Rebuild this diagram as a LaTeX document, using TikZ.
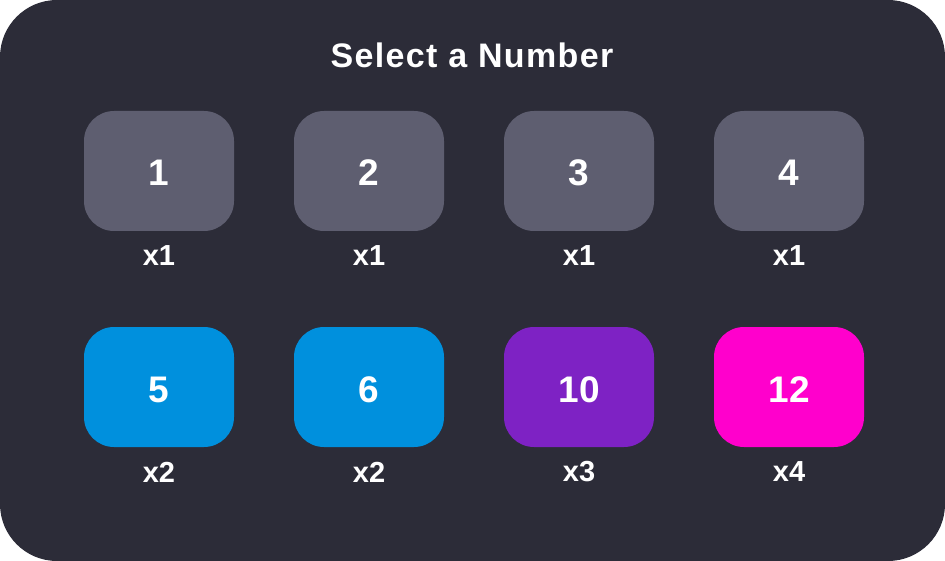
\documentclass[tikz,border=0pt]{standalone}
\usepackage{fontspec}
\setmainfont{Liberation Sans}
\definecolor{panel}{HTML}{2C2C38}
\definecolor{graybtn}{HTML}{5E5E70}
\definecolor{bluebtn}{HTML}{0090DD}
\definecolor{purplebtn}{HTML}{7E22C4}
\definecolor{pinkbtn}{HTML}{FF00CC}
\begin{document}
\begin{tikzpicture}[x=1pt,y=-1pt,
  numbtn/.style={rounded corners=30pt, minimum width=150pt, minimum height=120pt, inner sep=0pt, text height=30pt, text depth=0pt, text=white, font=\fontsize{37}{37}\selectfont\bfseries},
  multlbl/.style={text=white, font=\fontsize{29}{29}\selectfont\bfseries, inner sep=0pt},
  titlelbl/.style={text=white, font=\fontsize{34}{34}\selectfont\bfseries\addfontfeatures{LetterSpace=4}, inner sep=0pt}]
\useasboundingbox (0,0) rectangle (945,561);
\fill[white] (0,0) rectangle (945,561);
\fill[panel, rounded corners=57pt] (0,0) rectangle (945,561);
\node[titlelbl] (title) at (472,55) {Select a Number};
\node[numbtn, fill=graybtn] (b1) at (159,171) {1};
\node[numbtn, fill=graybtn] (b2) at (369,171) {2};
\node[numbtn, fill=graybtn] (b3) at (579,171) {3};
\node[numbtn, fill=graybtn] (b4) at (789,171) {4};
\node[numbtn, fill=bluebtn] (b5) at (159,387) {5};
\node[numbtn, fill=bluebtn] (b6) at (369,387) {6};
\node[numbtn, fill=purplebtn] (b10) at (579,387) {10};
\node[numbtn, fill=pinkbtn] (b12) at (789,387) {12};
\node[multlbl] (m1) at (159,256) {x1};
\node[multlbl] (m2) at (369,256) {x1};
\node[multlbl] (m3) at (579,256) {x1};
\node[multlbl] (m4) at (789,256) {x1};
\node[multlbl] (m5) at (159,472) {x2};
\node[multlbl] (m6) at (369,472) {x2};
\node[multlbl] (m10) at (579,472) {x3};
\node[multlbl] (m12) at (789,472) {x4};
\end{tikzpicture}
\end{document}
